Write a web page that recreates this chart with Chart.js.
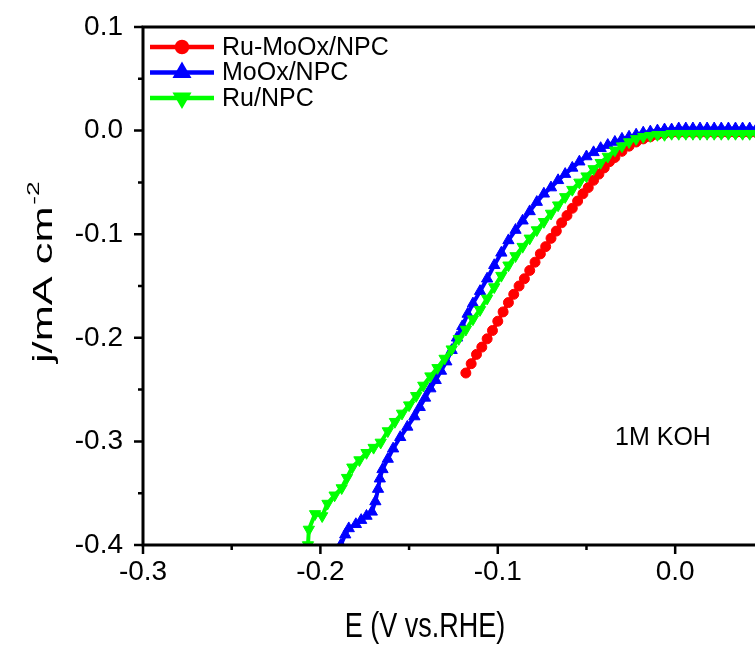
<!DOCTYPE html>
<html>
<head>
<meta charset="utf-8">
<script src="https://cdn.jsdelivr.net/npm/chart.js@4.4.0/dist/chart.umd.min.js"></script>
<style>
  html, body { margin: 0; padding: 0; background: #fff; overflow: hidden; }
  canvas { display: block; }
</style>
</head>
<body>
<canvas id="lsvChart" width="755" height="646"></canvas>
<script>
// Ru-MoOx/NPC
var ruMoOxE = [-0.118, -0.115, -0.112, -0.109, -0.106, -0.103, -0.100, -0.097, -0.094, -0.091, -0.088, -0.085, -0.082, -0.079, -0.076, -0.073, -0.070, -0.067, -0.064, -0.061, -0.058, -0.055, -0.052, -0.049, -0.046, -0.043, -0.040, -0.037, -0.034, -0.030, -0.026, -0.022, -0.018, -0.014, -0.010, -0.006, -0.002, 0.002, 0.006, 0.010, 0.014, 0.018, 0.022, 0.026, 0.030, 0.034, 0.038, 0.042, 0.046, 0.050];
var ruMoOxJ = [-0.234, -0.225, -0.216, -0.209, -0.201, -0.193, -0.184, -0.175, -0.166, -0.158, -0.150, -0.143, -0.135, -0.127, -0.119, -0.112, -0.104, -0.097, -0.089, -0.082, -0.075, -0.068, -0.061, -0.055, -0.048, -0.042, -0.036, -0.030, -0.026, -0.020, -0.015, -0.011, -0.008, -0.006, -0.004, -0.003, -0.002, -0.002, -0.002, -0.002, -0.002, -0.002, -0.002, -0.002, -0.002, -0.002, -0.002, -0.002, -0.002, -0.002];

// MoOx/NPC
var moOxE = [-0.1885, -0.186, -0.184, -0.180, -0.177, -0.174, -0.171, -0.169, -0.1675, -0.1665, -0.165, -0.162, -0.159, -0.155, -0.151, -0.147, -0.144, -0.141, -0.138, -0.135, -0.132, -0.129, -0.126, -0.123, -0.120, -0.117, -0.114, -0.110, -0.106, -0.102, -0.098, -0.094, -0.090, -0.086, -0.082, -0.078, -0.074, -0.070, -0.066, -0.062, -0.058, -0.054, -0.050, -0.046, -0.042, -0.038, -0.034, -0.030, -0.026, -0.022, -0.018, -0.014, -0.010, -0.006, -0.002, 0.002, 0.006, 0.010, 0.014, 0.018, 0.022, 0.026, 0.030, 0.034, 0.038, 0.042, 0.046, 0.050];
var moOxJ = [-0.400, -0.390, -0.384, -0.380, -0.376, -0.372, -0.368, -0.358, -0.346, -0.336, -0.327, -0.317, -0.307, -0.296, -0.286, -0.276, -0.267, -0.258, -0.249, -0.241, -0.232, -0.223, -0.212, -0.200, -0.189, -0.177, -0.167, -0.155, -0.143, -0.130, -0.118, -0.106, -0.096, -0.087, -0.078, -0.069, -0.061, -0.055, -0.048, -0.042, -0.036, -0.030, -0.025, -0.021, -0.017, -0.014, -0.011, -0.008, -0.006, -0.004, -0.002, -0.001, 0.000, 0.001, 0.001, 0.002, 0.002, 0.002, 0.002, 0.002, 0.002, 0.002, 0.002, 0.002, 0.002, 0.002, 0.002, 0.002];

// Ru/NPC
var ruE = [-0.207, -0.2065, -0.203, -0.199, -0.196, -0.192, -0.188, -0.185, -0.182, -0.178, -0.174, -0.170, -0.166, -0.162, -0.158, -0.154, -0.150, -0.146, -0.142, -0.138, -0.134, -0.130, -0.126, -0.122, -0.118, -0.114, -0.110, -0.106, -0.102, -0.098, -0.094, -0.090, -0.086, -0.082, -0.078, -0.074, -0.070, -0.066, -0.062, -0.058, -0.054, -0.050, -0.046, -0.042, -0.038, -0.034, -0.030, -0.026, -0.022, -0.018, -0.014, -0.010, -0.006, -0.002, 0.002, 0.006, 0.010, 0.014, 0.018, 0.022, 0.026, 0.030, 0.034, 0.038, 0.042, 0.046, 0.050];
var ruJ = [-0.400, -0.385, -0.370, -0.372, -0.360, -0.352, -0.345, -0.335, -0.325, -0.318, -0.311, -0.306, -0.301, -0.290, -0.281, -0.273, -0.265, -0.256, -0.246, -0.237, -0.229, -0.220, -0.211, -0.201, -0.192, -0.182, -0.173, -0.162, -0.151, -0.140, -0.130, -0.121, -0.112, -0.104, -0.096, -0.088, -0.080, -0.072, -0.064, -0.057, -0.050, -0.044, -0.037, -0.031, -0.025, -0.019, -0.015, -0.011, -0.008, -0.006, -0.005, -0.004, -0.004, -0.003, -0.003, -0.003, -0.003, -0.003, -0.003, -0.003, -0.003, -0.003, -0.003, -0.003, -0.003, -0.003, -0.003];

var seriesNames = ["Ru-MoOx/NPC", "MoOx/NPC", "Ru/NPC"];
var xTicks = [-0.3, -0.2, -0.1, 0.0];
var xMinor = [-0.25, -0.15, -0.05];
var yTicks = [0.1, 0.0, -0.1, -0.2, -0.3, -0.4];
var yMinor = [0.05, -0.05, -0.15, -0.25, -0.35];

var FONT = "'Liberation Sans', Arial, sans-serif";
var colors = ['#ff0000', '#0000ff', '#00ff00'];
var styles = [
  { pointStyle: 'circle', rotation: 0, radius: 5 },
  { pointStyle: 'triangle', rotation: 0, radius: 6.5 },
  { pointStyle: 'triangle', rotation: 180, radius: 6.5 }
];

function toPoints(xs, ys) {
  return xs.map(function (x, i) { return { x: x, y: ys[i] }; });
}

function makeSet(i, xs, ys, order) {
  return {
    label: seriesNames[i],
    data: toPoints(xs, ys),
    showLine: true,
    borderColor: colors[i],
    backgroundColor: colors[i],
    borderWidth: 4,
    pointStyle: styles[i].pointStyle,
    rotation: styles[i].rotation,
    pointRadius: styles[i].radius,
    pointBorderWidth: 1,
    pointBorderColor: colors[i],
    pointBackgroundColor: colors[i],
    order: order
  };
}

// frame, tick marks, titles, legend and note
var decorations = {
  id: 'decorations',
  afterDraw: function (chart) {
    var ctx = chart.ctx;
    var a = chart.chartArea;
    var xs = chart.scales.x, ys = chart.scales.y;
    ctx.save();
    ctx.strokeStyle = '#000';
    ctx.lineWidth = 3;
    ctx.beginPath();
    ctx.moveTo(a.left, a.bottom); ctx.lineTo(a.right + 5, a.bottom);
    ctx.moveTo(a.left, a.bottom + 1.5); ctx.lineTo(a.left, a.top);
    ctx.moveTo(a.left - 1.5, a.top); ctx.lineTo(a.right + 5, a.top);
    ctx.stroke();

    ctx.lineWidth = 2.5;
    ctx.beginPath();
    xTicks.forEach(function (v) {
      var px = xs.getPixelForValue(v);
      ctx.moveTo(px, a.bottom); ctx.lineTo(px, a.bottom + 9);
    });
    xMinor.forEach(function (v) {
      var px = xs.getPixelForValue(v);
      ctx.moveTo(px, a.bottom); ctx.lineTo(px, a.bottom + 5);
    });
    yTicks.forEach(function (v) {
      var py = ys.getPixelForValue(v);
      ctx.moveTo(a.left, py); ctx.lineTo(a.left - 9, py);
    });
    yMinor.forEach(function (v) {
      var py = ys.getPixelForValue(v);
      ctx.moveTo(a.left, py); ctx.lineTo(a.left - 5, py);
    });
    ctx.stroke();

    ctx.fillStyle = '#000';
    // x title (drawn a little tall, as in the original export)
    ctx.save();
    ctx.translate(425, 627);
    ctx.scale(1, 1.3);
    ctx.font = '27px ' + FONT;
    ctx.textAlign = 'center';
    ctx.textBaseline = 'middle';
    ctx.fillText('E (V vs.RHE)', 0, 0);
    ctx.restore();

    // y title with superscript
    ctx.save();
    ctx.translate(44, 273);
    ctx.rotate(-Math.PI / 2);
    ctx.scale(1.55, 1);
    ctx.textBaseline = 'middle';
    ctx.font = '28px ' + FONT;
    var main = 'j/mA cm';
    var wMain = ctx.measureText(main).width;
    ctx.font = '17px ' + FONT;
    var wSup = ctx.measureText('-2').width;
    var start = -(wMain + wSup) / 2;
    ctx.textAlign = 'left';
    ctx.font = '28px ' + FONT;
    ctx.fillText(main, start, 0);
    ctx.font = '17px ' + FONT;
    ctx.fillText('-2', start + wMain + 1, -10);
    ctx.restore();

    // note
    ctx.font = '25px ' + FONT;
    ctx.textAlign = 'center';
    ctx.textBaseline = 'middle';
    ctx.fillText('1M KOH', 663, 438);

    // legend
    ctx.textAlign = 'left';
    for (var i = 0; i < seriesNames.length; i++) {
      var ly = 47 + i * 25.5;
      ctx.strokeStyle = colors[i];
      ctx.fillStyle = colors[i];
      ctx.lineWidth = 4.5;
      ctx.beginPath();
      ctx.moveTo(150, ly); ctx.lineTo(214, ly);
      ctx.stroke();
      Chart.helpers.drawPoint(ctx, {
        pointStyle: styles[i].pointStyle,
        rotation: styles[i].rotation,
        radius: styles[i].radius,
        borderWidth: 1
      }, 182, ly);
      ctx.fillStyle = '#000';
      ctx.font = '25px ' + FONT;
      ctx.fillText(seriesNames[i], 222, ly + 1);
    }
    ctx.restore();
  }
};

new Chart(document.getElementById('lsvChart').getContext('2d'), {
  type: 'scatter',
  data: {
    datasets: [
      makeSet(0, ruMoOxE, ruMoOxJ, 3),
      makeSet(1, moOxE, moOxJ, 2),
      makeSet(2, ruE, ruJ, 1)
    ]
  },
  options: {
    responsive: false,
    animation: false,
    layout: { autoPadding: false, padding: { top: 27, right: 0, left: 0, bottom: 0 } },
    plugins: { legend: { display: false }, tooltip: { enabled: false } },
    scales: {
      x: {
        type: 'linear',
        min: -0.3,
        max: 0.045,
        afterBuildTicks: function (s) { s.ticks = xTicks.map(function (v) { return { value: v }; }); },
        afterFit: function (s) { s.height = 101; s.paddingLeft = 0; s.paddingRight = 0; },
        grid: { display: false, drawTicks: false },
        border: { display: false },
        ticks: {
          padding: 10,
          color: '#000',
          font: { family: FONT, size: 28 },
          maxRotation: 0,
          callback: function (v) { return v.toFixed(1); }
        }
      },
      y: {
        type: 'linear',
        min: -0.4,
        max: 0.1,
        afterBuildTicks: function (s) { s.ticks = yTicks.map(function (v) { return { value: v }; }); },
        afterFit: function (s) { s.width = 143; s.paddingTop = 0; s.paddingBottom = 0; },
        grid: { display: false, drawTicks: false },
        border: { display: false },
        ticks: {
          padding: 20,
          color: '#000',
          font: { family: FONT, size: 28 },
          callback: function (v) { return v.toFixed(1); }
        }
      }
    }
  },
  plugins: [decorations]
});
</script>
</body>
</html>
